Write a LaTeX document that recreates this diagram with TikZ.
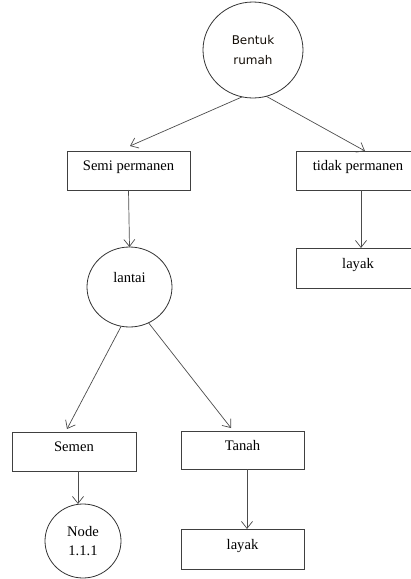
\documentclass[tikz,border=0pt]{standalone}
\usepackage{fontspec}
\setmainfont{Liberation Serif}
\newfontfamily\bentukfont{DejaVu Sans}
\usetikzlibrary{shapes.geometric,arrows.meta}
\begin{document}
\begin{tikzpicture}[x=1pt,y=-1pt,
  every node/.style={inner sep=0pt, outer sep=0pt},
  boxnode/.style={draw=black!75, line width=0.8pt, rectangle, minimum height=39pt,
    font=\fontsize{14.6}{17}\selectfont, text height=7.5pt, text depth=7.5pt},
  ovalnode/.style={draw=black!80, line width=0.8pt, ellipse},
  link/.style={draw=black!70, line width=0.7pt, -{Straight Barb[length=7pt,width=11pt]}}
]
\useasboundingbox (0,0) rectangle (411,579);

\node[ovalnode, minimum width=100pt, minimum height=96pt, align=center,
  font=\bentukfont\fontsize{12}{20}\selectfont, text=black!90!brown] (top) at (253,50) {Bentuk\\rumah};
\node[boxnode, minimum width=123pt] (semi) at (128.5,170.5) {Semi permanen};
\node[boxnode, minimum width=124pt] (tidak) at (358,170.5) {tidak permanen};
\node[boxnode, minimum width=124pt, minimum height=40pt] (layakA) at (358,268) {layak};
\node[ovalnode, minimum width=85pt, minimum height=80pt,
  font=\fontsize{14.6}{17}\selectfont, text height=5pt, text depth=15pt] (lantai) at (129.5,287) {lantai};
\node[boxnode, minimum width=124pt] (semen) at (74,451.5) {Semen};
\node[boxnode, minimum width=123pt, minimum height=38pt] (tanah) at (242.5,450) {Tanah};
\node[ovalnode, minimum width=76pt, minimum height=74pt, align=center,
  font=\fontsize{14.6}{19}\selectfont] (nd) at (83,541) {Node\\1.1.1};
\node[boxnode, minimum width=123pt, minimum height=40pt] (layakB) at (242.5,549) {layak};

\draw[link] (top.257) -- ([xshift=1.5pt,yshift=5pt]semi.north);
\draw[link] (top.286) -- ([xshift=7pt]tidak.north);
\draw[link] (semi.south) -- (lantai.north);
\draw[link] ([xshift=3pt]tidak.south) -- ([xshift=3pt]layakA.north);
\draw[link] (lantai.258) -- ([xshift=-7pt,yshift=3pt]semen.north);
\draw[link] (lantai.298) -- ([xshift=-11.5pt,yshift=3pt]tanah.north);
\draw[link] ([xshift=4pt]semen.south) -- ([xshift=-5pt]nd.north);
\draw[link] ([xshift=4.5pt]tanah.south) -- ([xshift=4.5pt]layakB.north);
\end{tikzpicture}
\end{document}
